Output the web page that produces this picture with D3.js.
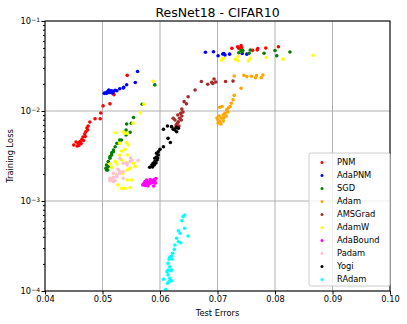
<!DOCTYPE html>
<html>
<head>
<meta charset="utf-8">
<script src="https://cdn.jsdelivr.net/npm/d3@7"></script>
<style>
  body { margin: 0; background: #fff; }
  svg text { font-family: "DejaVu Sans", sans-serif; }
</style>
</head>
<body>
<div class="chart"></div>
<script>
  // [test error, training loss]
  var pnm = [[0.0450,0.00419],[0.0454,0.00453],[0.0456,0.00408],[0.0458,0.00441],[0.0459,0.00414],[0.0461,0.00458],
    [0.0463,0.00435],[0.0464,0.00482],[0.0466,0.00514],[0.0467,0.00470],[0.0469,0.00555],[0.0470,0.00521],[0.0471,0.00589],
    [0.0473,0.00648],[0.0474,0.00615],[0.0475,0.00681],[0.0478,0.00755],[0.0487,0.00820],[0.0496,0.00820],[0.0497,0.00950],
    [0.0501,0.0114],[0.0513,0.0120],[0.0520,0.0152],[0.0543,0.0249],
    [0.0725,0.0497],[0.0735,0.0518],[0.0741,0.0532],[0.0742,0.0508],[0.0737,0.0497],[0.0761,0.0472],[0.0770,0.0495],
    [0.0769,0.0476],[0.0784,0.0501],[0.0806,0.0517]];
  var adapnm = [[0.0503,0.0157],[0.0504,0.0158],[0.0507,0.0157],[0.0510,0.0161],[0.0513,0.0161],[0.0513,0.0167],[0.0516,0.0168],
    [0.0519,0.0164],[0.0517,0.0158],[0.0522,0.0170],[0.0525,0.0168],[0.0508,0.0163],[0.0511,0.0171],[0.0530,0.0177],
    [0.0536,0.0180],[0.0537,0.0183],[0.0542,0.0196],[0.0557,0.0207],[0.0561,0.0275],
    [0.0679,0.0449],[0.0693,0.0456],[0.0701,0.0411],[0.0709,0.0430],[0.0711,0.0435],[0.0713,0.0419],[0.0721,0.0428],
    [0.0743,0.0435],[0.0751,0.0428]];
  var sgd = [[0.0507,0.00221],[0.0509,0.00221],[0.0506,0.00231],[0.0510,0.00241],[0.0507,0.00251],[0.0510,0.00274],
    [0.0513,0.00298],[0.0513,0.00311],[0.0516,0.00325],[0.0516,0.00344],[0.0519,0.00369],[0.0519,0.00353],[0.0522,0.00401],
    [0.0525,0.00438],[0.0529,0.00438],[0.0530,0.00476],[0.0533,0.00476],[0.0541,0.00541],[0.0548,0.00580],[0.0541,0.00615],
    [0.0542,0.00717],[0.0550,0.00730],[0.0554,0.00848],[0.0569,0.0119],[0.0591,0.0195],
    [0.0737,0.0444],[0.0743,0.0456],[0.0744,0.0470],[0.0741,0.0470],[0.0757,0.0476],[0.0755,0.0438],[0.0781,0.0438],
    [0.0800,0.0470],[0.0803,0.0411],[0.0826,0.0452]];
  var adam = [[0.0729,0.0245],[0.0746,0.0249],[0.0751,0.0241],[0.0759,0.0243],[0.0766,0.0234],[0.0768,0.0248],[0.0776,0.0234],
    [0.0779,0.0251],[0.0741,0.0179],[0.0729,0.0149],[0.0727,0.0133],[0.0724,0.0122],[0.0722,0.0112],[0.0719,0.0108],
    [0.0716,0.0103],[0.0713,0.00942],[0.0710,0.00903],[0.0707,0.00830],[0.0704,0.00761],[0.0701,0.00794],[0.0703,0.00880],
    [0.0701,0.00736],[0.0706,0.00717],[0.0710,0.00775],[0.0711,0.00836],[0.0715,0.00880],[0.0718,0.00975],[0.0708,0.0112],
    [0.0704,0.0110],[0.0699,0.00836]];
  var amsgrad = [[0.0672,0.0213],[0.0683,0.0198],[0.0690,0.0208],[0.0694,0.0227],[0.0697,0.0210],[0.0692,0.0202],[0.0714,0.0213],
    [0.0727,0.0215],[0.0661,0.0171],[0.0649,0.0144],[0.0642,0.0127],[0.0646,0.0120],[0.0638,0.0105],[0.0636,0.00942],
    [0.0634,0.00830],[0.0632,0.00761],[0.0630,0.00730],[0.0626,0.00794],[0.0638,0.00880],[0.0637,0.00794],[0.0628,0.00699],
    [0.0633,0.00681],[0.0623,0.00830],[0.0626,0.00648],[0.0640,0.00975],[0.0631,0.00903]];
  var adamw = [[0.0707,0.0369],[0.0710,0.0386],[0.0731,0.0375],[0.0736,0.0361],[0.0736,0.0403],[0.0754,0.0361],[0.0757,0.0386],
    [0.0785,0.0393],[0.0814,0.0377],[0.0866,0.0417],
    [0.0588,0.0214],[0.0572,0.0119],[0.0566,0.00957],[0.0553,0.00730],[0.0543,0.00565],[0.0539,0.00565],[0.0523,0.00574],
    [0.0530,0.00438],[0.0545,0.00419],[0.0539,0.00375],[0.0543,0.00325],[0.0530,0.00325],[0.0533,0.00286],[0.0541,0.00267],
    [0.0525,0.00258],[0.0516,0.00237],[0.0543,0.00221],[0.0535,0.00203],[0.0543,0.00171],[0.0551,0.00171],[0.0527,0.00151],
    [0.0533,0.00138],[0.0539,0.00138],[0.0548,0.00141],[0.0554,0.00262],[0.0557,0.00241],[0.0536,0.00589],[0.0542,0.00445],
    [0.0533,0.00359],[0.0522,0.00274],[0.0513,0.00258],[0.0548,0.00231]];
  var adabound = [[0.0570,0.00151],[0.0572,0.00156],[0.0574,0.00149],[0.0575,0.00158],[0.0577,0.00153],[0.0579,0.00161],
    [0.0581,0.00155],[0.0583,0.00165],[0.0584,0.00158],[0.0586,0.00169],[0.0588,0.00161],[0.0590,0.00173],[0.0591,0.00167],
    [0.0593,0.00178],[0.0583,0.00173],[0.0579,0.00147],[0.0589,0.00147],[0.0574,0.00165],[0.0577,0.00171],[0.0592,0.00158]];
  var padam = [[0.0530,0.00298],[0.0536,0.00262],[0.0542,0.00262],[0.0548,0.00274],[0.0551,0.00286],[0.0562,0.00281],
    [0.0527,0.00225],[0.0519,0.00203],[0.0513,0.00179],[0.0516,0.00171],[0.0522,0.00168],[0.0525,0.00186],[0.0530,0.00203],
    [0.0536,0.00212],[0.0530,0.00212],[0.0525,0.00195],[0.0519,0.00183],[0.0513,0.00168],[0.0519,0.00164],[0.0536,0.00179],
    [0.0549,0.00301],[0.0543,0.00251]];
  var yogi = [[0.0606,0.00627],[0.0613,0.00681],[0.0620,0.00670],[0.0623,0.00627],[0.0629,0.00659],[0.0626,0.00615],
    [0.0629,0.00589],[0.0632,0.00643],[0.0614,0.00497],[0.0618,0.00447],[0.0606,0.00401],[0.0600,0.00375],[0.0597,0.00353],
    [0.0597,0.00325],[0.0594,0.00339],[0.0594,0.00308],[0.0591,0.00298],[0.0595,0.00286],[0.0591,0.00274],[0.0588,0.00262],
    [0.0590,0.00251],[0.0586,0.00251],[0.0582,0.00237],[0.0593,0.00264],[0.0596,0.00301],[0.0587,0.00239]];
  var radam = [[0.0643,6.99e-4],[0.0640,6.70e-4],[0.0638,6.04e-4],[0.0643,4.98e-4],[0.0649,4.09e-4],[0.0632,4.68e-4],
    [0.0635,4.38e-4],[0.0629,3.85e-4],[0.0632,3.53e-4],[0.0636,3.44e-4],[0.0626,3.25e-4],[0.0625,2.90e-4],[0.0622,2.62e-4],
    [0.0620,2.45e-4],[0.0617,2.37e-4],[0.0616,2.25e-4],[0.0614,2.03e-4],[0.0617,1.86e-4],[0.0620,1.71e-4],[0.0614,1.71e-4],
    [0.0612,1.64e-4],[0.0614,1.51e-4],[0.0617,1.38e-4],[0.0620,1.30e-4],[0.0616,1.27e-4],[0.0606,1.35e-4],[0.0613,1.22e-4],
    [0.0610,1.04e-4],[0.0619,1.68e-4],[0.0621,2.27e-4]];

  var names = ["PNM", "AdaPNM", "SGD", "Adam", "AMSGrad", "AdamW", "AdaBound", "Padam", "Yogi", "RAdam"];
  var seriesData = [pnm, adapnm, sgd, adam, amsgrad, adamw, adabound, padam, yogi, radam];
  var xTicks = [0.04, 0.05, 0.06, 0.07, 0.08, 0.09, 0.10];
  var yTicks = [1e-4, 1e-3, 1e-2, 1e-1];
  var yTickExp = ["\u22124", "\u22123", "\u22122", "\u22121"];

  var colors = ["red", "blue", "green", "orange", "brown", "yellow", "magenta", "pink", "black", "cyan"];

  var margin = {top: 21, right: 17, bottom: 33, left: 45};
  var width = 407 - margin.left - margin.right,
      height = 324 - margin.top - margin.bottom;

  var svg = d3.select('.chart')
      .append("svg")
      .attr("width", 407)
      .attr("height", 324);

  var g = svg.append("g")
      .attr("transform", "translate(" + margin.left + "," + margin.top + ")");

  var xScale = d3.scaleLinear().domain([0.04, 0.10]).range([0, width]);
  var yScale = d3.scaleLog().domain([1e-4, 1e-1]).range([height, 0]);

  // grid
  g.append("g").selectAll("line")
      .data(xTicks)
      .enter().append("line")
      .attr("x1", function(d) { return xScale(d); })
      .attr("x2", function(d) { return xScale(d); })
      .attr("y1", 0).attr("y2", height)
      .attr("stroke", "#b0b0b0").attr("stroke-width", 1);
  g.append("g").selectAll("line")
      .data(yTicks)
      .enter().append("line")
      .attr("y1", function(d) { return yScale(d); })
      .attr("y2", function(d) { return yScale(d); })
      .attr("x1", 0).attr("x2", width)
      .attr("stroke", "#b0b0b0").attr("stroke-width", 1);

  // points
  seriesData.forEach(function(pts, i) {
    g.append("g").selectAll("circle")
        .data(pts)
        .enter().append("circle")
        .attr("cx", function(d) { return xScale(d[0]); })
        .attr("cy", function(d) { return yScale(d[1]); })
        .attr("r", 1.8)
        .attr("fill", colors[i]);
  });

  // axes
  var xAxis = d3.axisBottom(xScale)
      .tickValues(xTicks)
      .tickSize(3.5)
      .tickPadding(2)
      .tickFormat(d3.format(".2f"));
  var gx = g.append("g")
      .attr("transform", "translate(0," + height + ")")
      .call(xAxis);
  gx.select(".domain").remove();
  gx.selectAll("text").attr("font-size", 8.3).attr("fill", "#000");

  var minor = [];
  [1e-4, 1e-3, 1e-2].forEach(function(b) {
    for (var k = 2; k < 10; k++) minor.push(b * k);
  });
  var yMinor = d3.axisLeft(yScale).tickValues(minor).tickSize(2).tickFormat("");
  var gym = g.append("g").call(yMinor);
  gym.select(".domain").remove();

  var yAxis = d3.axisLeft(yScale)
      .tickValues(yTicks)
      .tickSize(3.5)
      .tickPadding(2)
      .tickFormat("");
  var gy = g.append("g").call(yAxis);
  gy.select(".domain").remove();
  gy.selectAll(".tick").append("text")
      .attr("x", -5).attr("dy", "0.35em")
      .attr("text-anchor", "end")
      .attr("font-size", 8.3)
      .attr("fill", "#000")
      .each(function(d, i) {
        var t = d3.select(this);
        t.append("tspan").text("10");
        t.append("tspan").attr("dy", "-0.45em").attr("font-size", 6).text(yTickExp[i]);
      });

  g.append("rect")
      .attr("width", width).attr("height", height)
      .attr("fill", "none").attr("stroke", "#000").attr("stroke-width", 1);

  // labels
  svg.append("text")
      .attr("x", margin.left + width / 2).attr("y", 17)
      .attr("text-anchor", "middle")
      .attr("font-size", 12.5)
      .text("ResNet18 - CIFAR10");
  svg.append("text")
      .attr("x", margin.left + width / 2).attr("y", 316)
      .attr("text-anchor", "middle")
      .attr("font-size", 8.3)
      .text("Test Errors");
  svg.append("text")
      .attr("transform", "translate(13," + (margin.top + height / 2) + ") rotate(-90)")
      .attr("text-anchor", "middle")
      .attr("font-size", 8.3)
      .text("Training Loss");

  // legend
  var legend = svg.append("g").attr("transform", "translate(309,153)");
  legend.append("rect")
      .attr("width", 81).attr("height", 133)
      .attr("rx", 2)
      .attr("fill", "#fff").attr("fill-opacity", 0.8)
      .attr("stroke", "#ccc").attr("stroke-width", 1);
  var items = legend.selectAll(".item")
      .data(names)
      .enter().append("g")
      .attr("class", "item")
      .attr("transform", function(d, i) { return "translate(0," + (9.5 + i * 13) + ")"; });
  items.append("circle")
      .attr("cx", 13).attr("r", 1.5)
      .attr("fill", function(d, i) { return colors[i]; });
  items.append("text")
      .attr("x", 28).attr("dy", "0.35em")
      .attr("font-size", 8.3)
      .text(function(d) { return d; });
</script>
</body>
</html>
